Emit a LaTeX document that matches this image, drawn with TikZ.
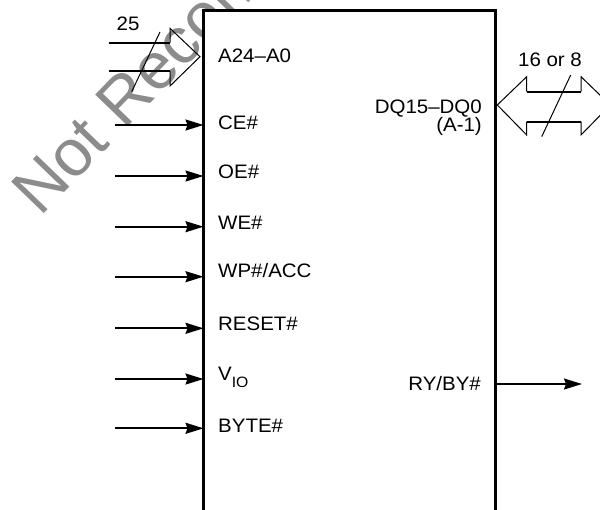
\documentclass[tikz,border=0pt]{standalone}
\usepackage{fontspec}
\setmainfont{Liberation Sans}[FakeStretch=1.05]
\newfontfamily\wmfont{Liberation Sans}
\usetikzlibrary{arrows.meta}
\definecolor{wmgray}{RGB}{140,140,140}
\tikzset{
  lbl/.style={inner sep=0pt, font=\fontsize{19.5}{22}\selectfont},
  inarrow/.style={line width=1.8pt, -{Stealth[length=18pt,width=11pt,inset=2pt]}},
  busline/.style={line width=1.6pt},
  busedge/.style={line width=1pt},
}
\begin{document}
\begin{tikzpicture}[x=1pt,y=-1pt]
\useasboundingbox (0,0) rectangle (600,509);
% watermark
\node[anchor=base west, rotate=46, inner sep=0pt, text=wmgray,
      font=\wmfont\fontsize{66}{66}\selectfont] (wm) at (40,218) {Not Recommended};
% chip box (open at bottom)
\fill[white] (203.5,10) rectangle (495.8,520);
\draw[line width=3pt] (203.5,520) -- (203.5,10) -- (495.8,10) -- (495.8,520);
\coordinate (boxL) at (203.5,0);
\coordinate (boxR) at (495.8,0);
% input bus A24-A0
\coordinate (ba1) at (108.5,42.7);
\coordinate (ba2) at (108.5,71);
\draw[busline] (ba1) -- (170,42.7);
\draw[busline] (ba2) -- (170,71);
\draw[busedge] (170,42.7) -- (170,28.3) -- (200,56.7) -- (170,86) -- (170,71);
\draw[busedge] (160,32) -- (131.7,91.7);
\node[lbl, anchor=base west] (n25) at (116.5,30) {25};
\node[lbl, anchor=base west] (la) at (218,62) {A24–A0};
% bidirectional bus DQ
\draw[busline] (526.7,91.7) -- (581,91.7);
\draw[busline] (526.7,121.7) -- (581,121.7);
\draw[busedge] (526.7,91.7) -- (526.7,76.7) -- (497.3,105) -- (526.7,135) -- (526.7,121.7);
\draw[busedge] (581,91.7) -- (581,76.7) -- (610.3,105) -- (581,135) -- (581,121.7);
\draw[busedge] (570.7,75) -- (541.7,136.7);
\node[lbl, anchor=base] (n16) at (550,66.7) {16 or 8};
\node[lbl, anchor=base east] (ldq) at (482,113) {DQ15–DQ0};
\node[lbl, anchor=base east] (la1) at (482,131) {(A-1)};
% inputs
\foreach \nm/\ay/\by/\txt in {ce/125/129/{CE\#}, oe/176/178.5/{OE\#}, we/226.7/229/{WE\#},
  wp/276.7/277/{WP\#/ACC}, rst/328.3/330.7/{RESET\#},
  vio/379/380/{V\raisebox{-7pt}{\fontsize{15}{15}\selectfont IO}}, byte/428.3/432.3/{BYTE\#}}{
  \coordinate (s\nm) at (115,\ay);
  \node[lbl, anchor=base west] (l\nm) at (218,\by) {\txt};
  \draw[inarrow] (s\nm) -- (s\nm -| boxL);
}
% output RY/BY#
\node[lbl, anchor=base east] (lry) at (481,390) {RY/BY\#};
\coordinate (ery) at (582,384);
\draw[inarrow] (ery -| boxR) -- (ery);
\end{tikzpicture}
\end{document}
